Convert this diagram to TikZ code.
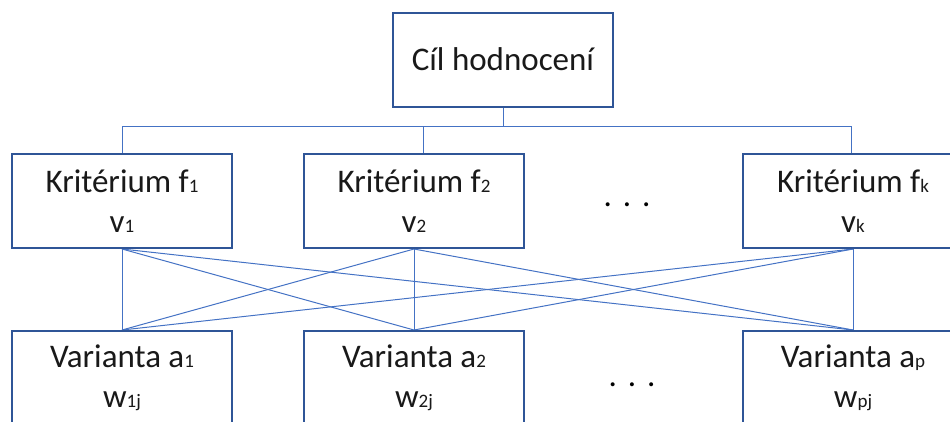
\documentclass[tikz,border=0pt]{standalone}
\usepackage{fontspec}
\setmainfont{Carlito}
\usetikzlibrary{backgrounds}
\definecolor{boxblue}{HTML}{2F5597}
\definecolor{lineblue}{HTML}{4472C4}
\newcommand\sbs[1]{{\fontsize{19}{19}\selectfont #1}}
\tikzset{
  box/.style={draw=boxblue, line width=2pt, fill=white, minimum width=220pt, minimum height=94pt,
    inner sep=0pt, align=center, font=\fontsize{33}{40}\selectfont, text=black!90},
  conn/.style={draw=lineblue, line width=1pt},
  dots/.style={font=\fontsize{33}{33}\selectfont, inner sep=0pt, text=black}
}
\begin{document}
\begin{tikzpicture}[x=1pt,y=-1pt]
\useasboundingbox (0,0) rectangle (950,421);
\clip (0,0) rectangle (950,421);
\node[box] (goal) at (503,59.5) {Cíl hodnocení};
\node[box] (K1) at (122,201) {Kritérium f\sbs{1}\\v\sbs{1}};
\node[box] (K2) at (414,201) {Kritérium f\sbs{2}\\v\sbs{2}};
\node[box] (Kk) at (853,201) {Kritérium f\sbs{k}\\v\sbs{k}};
\node[box] (V1) at (122,378) {Varianta a\sbs{1}\\w\sbs{1j}};
\node[box] (V2) at (414,378) {Varianta a\sbs{2}\\w\sbs{2j}};
\node[box] (Vp) at (853,378) {Varianta a\sbs{p}\\w\sbs{pj}};
\begin{scope}[on background layer]
\draw[conn] (goal.south) -- ++(0,19) coordinate (bus);
\draw[conn] (K1.north) |- (bus);
\draw[conn] (bus) -| ([xshift=-2pt]Kk.north);
\draw[conn] ([xshift=9pt]K2.north) -- ([xshift=9pt]K2.north |- bus);
\foreach \k in {K1,K2,Kk}{
  \foreach \v in {V1,V2,Vp}{
    \draw[conn] (\k.south) -- (\v.north);
  }
}
\end{scope}
\node[dots] (d1) at (627,205) {.\,\,.\,\,.};
\node[dots] (d2) at (632,385) {.\,\,.\,\,.};
\end{tikzpicture}
\end{document}
